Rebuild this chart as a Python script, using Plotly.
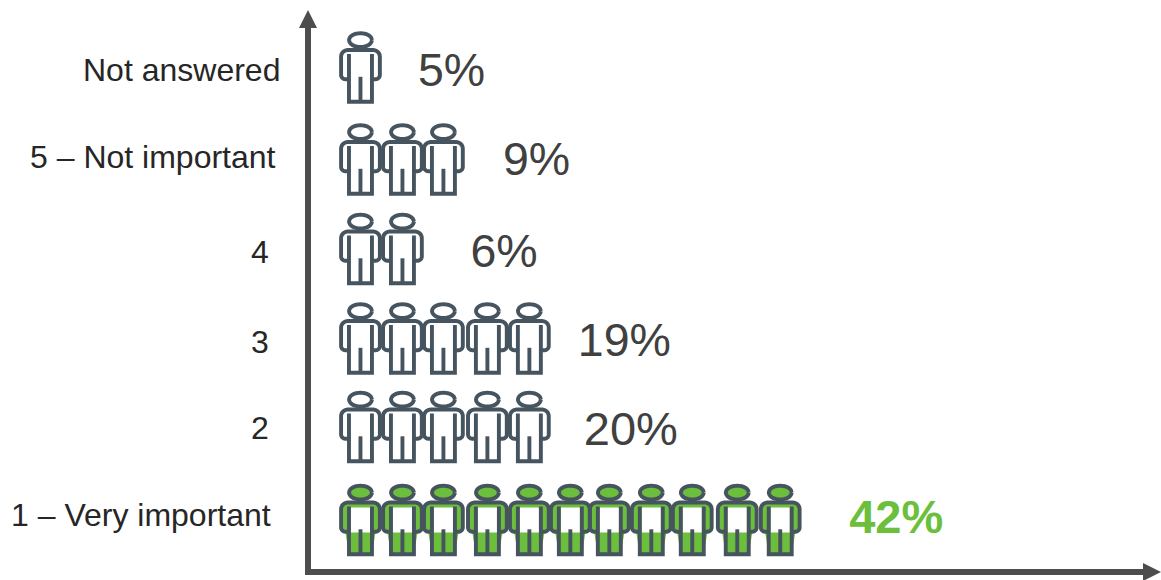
import math
import plotly.graph_objects as go

# ---- data (bottom row first) ----
categories = ["1 – Very important", "2", "3", "4", "5 – Not important", "Not answered"]
percent_values = [42, 20, 19, 6, 9, 5]
icon_counts = [11, 5, 5, 2, 3, 1]
highlighted_category = "1 – Very important"

# ---- styling / layout constants ----
W, H = 1161, 580
PLOT_L, PLOT_R, PLOT_T, PLOT_B = 310.5, 1150, 18, 569
SLOT_PX, ROW_PX = 42.0, 90.5
ORIGIN_X, ORIGIN_Y = 360.0, 520.0
INK = "#46545f"
GREEN = "#6cbf3c"
AXIS = "#4d4d4d"
FONT = "Liberation Sans, Arial, sans-serif"

row_nudge = [0, -2.5, -0.5, 0.5, 1.5, 0]
slot_nudge = [0, 0, -1, 1, 1, 0, -3, -3, -4, -1, 0]
label_gap = [69, 54.5, 48.5, 68, 59.5, 57.5]
value_nudge = [1, 6, 5.5, 6, 3.5, 6.5]
cat_right = [272, 270, 270, 270, 277, 281]
cat_py = [515, 428, 342, 252, 157, 70]
value_size = [47, 47, 46.5, 46.5, 46.5, 46.5]


def to_x(px):
    return (px - ORIGIN_X) / SLOT_PX


def to_y(py):
    return (ORIGIN_Y - py) / ROW_PX


def arc(cx, cy, rx, ry, a0, a1, n=8):
    return [(cx + rx * math.cos(math.radians(a0 + (a1 - a0) * i / n)),
             cy + ry * math.sin(math.radians(a0 + (a1 - a0) * i / n))) for i in range(n + 1)]


# person glyph, in pixels relative to icon centre (y down)
head = arc(0, -27.4, 11.4, 6.9, 0, 360, 32)
shoulders = (
    [(-11.5, 11.7)]
    + arc(-15.2, 7.5, 4.2, 4.2, 90, 180)
    + arc(-12.5, -10.8, 6.9, 6.7, 180, 270)
    + arc(12.5, -10.8, 6.9, 6.7, 270, 360)
    + arc(15.2, 7.5, 4.2, 4.2, 0, 90)
    + [(11.5, 11.7)]
)
legs = [(-11.5, -13.5), (-11.5, 34.3), (11.5, 34.3), (11.5, -13.5)]
crotch = [(0, 9.3), (0, 34.3)]
silhouette = shoulders[1:-1] + [(11.5, 34.3), (-11.5, 34.3)]
belly = [(-9.6, -12.5), (9.6, -12.5), (9.6, 12.5), (-9.6, 12.5)]


def stamp(parts, centers):
    xs, ys = [], []
    for cx, cy in centers:
        for part in parts:
            for dx, dy in part:
                xs.append(to_x(cx + dx))
                ys.append(to_y(cy + dy))
            xs.append(None)
            ys.append(None)
    return xs, ys


fig = go.Figure()
all_centers, value_x, value_y = [], [], []
for r, (cat, n) in enumerate(zip(categories, icon_counts)):
    cy = ORIGIN_Y - r * ROW_PX + row_nudge[r]
    centers = [(ORIGIN_X + i * SLOT_PX + slot_nudge[i], cy) for i in range(n)]
    all_centers += centers
    last = centers[-1][0]
    value_x.append(to_x(last + label_gap[r]))
    value_y.append(to_y(cy + value_nudge[r]))
    if cat == highlighted_category:
        x, y = stamp([silhouette, head], centers)
        fig.add_trace(go.Scatter(x=x, y=y, mode="lines", fill="toself", fillcolor=GREEN,
                                 line=dict(width=0, color=GREEN, simplify=False), hoverinfo="skip", name=cat + " fill"))
        x, y = stamp([belly], centers)
        fig.add_trace(go.Scatter(x=x, y=y, mode="lines", fill="toself", fillcolor="white",
                                 line=dict(width=0, color="white", simplify=False), hoverinfo="skip", name=cat + " blank"))

x, y = stamp([head, shoulders, legs, crotch], all_centers)
fig.add_trace(go.Scatter(x=x, y=y, mode="lines", line=dict(color=INK, width=3.9, simplify=False), hoverinfo="skip", name="people"))

colors = [GREEN if c == highlighted_category else "#404040" for c in categories]
fig.add_trace(go.Scatter(
    x=value_x, y=value_y, mode="text", cliponaxis=False,
    text=[f"<b>{p}%</b>" if c == highlighted_category else f"{p}%" for p, c in zip(percent_values, categories)],
    textposition="middle right",
    textfont=dict(family=FONT, size=value_size, color=colors),
    name="values"))

annotations = [
    dict(text=c, xref="paper", yref="paper",
         x=(cat_right[r] - PLOT_L) / (PLOT_R - PLOT_L),
         y=(PLOT_B - cat_py[r]) / (PLOT_B - PLOT_T),
         xanchor="right", yanchor="middle", showarrow=False, align="right",
         font=dict(family=FONT, size=32, color="#262626"))
    for r, c in enumerate(categories)
]

arrow_up = dict(type="path", xref="paper", yref="paper", xanchor=0, yanchor=1,
                xsizemode="pixel", ysizemode="pixel",
                path="M -12 -10 L 6 -10 L -3 8 Z", fillcolor=AXIS, line=dict(width=0))
arrow_right = dict(type="path", xref="paper", yref="paper", xanchor=1, yanchor=0,
                   xsizemode="pixel", ysizemode="pixel",
                   path="M -7 6 L 11 -3 L -7 -12 Z", fillcolor=AXIS, line=dict(width=0))

fig.update_layout(
    width=W, height=H, showlegend=False, plot_bgcolor="white", paper_bgcolor="white",
    margin=dict(l=PLOT_L, r=W - PLOT_R, t=PLOT_T, b=H - PLOT_B, pad=0),
    xaxis=dict(range=[to_x(PLOT_L), to_x(PLOT_R)], showgrid=False, zeroline=False, showticklabels=False,
               ticks="", showline=True, linecolor=AXIS, linewidth=5.5),
    yaxis=dict(range=[to_y(PLOT_B), to_y(PLOT_T)], showgrid=False, zeroline=False, showticklabels=False,
               ticks="", showline=True, linecolor=AXIS, linewidth=5.5),
    shapes=[arrow_up, arrow_right],
    annotations=annotations,
)
fig.write_html("out.html", post_script="document.body.style.margin='0';document.body.style.overflow='hidden';",
               config=dict(displayModeBar=False))
